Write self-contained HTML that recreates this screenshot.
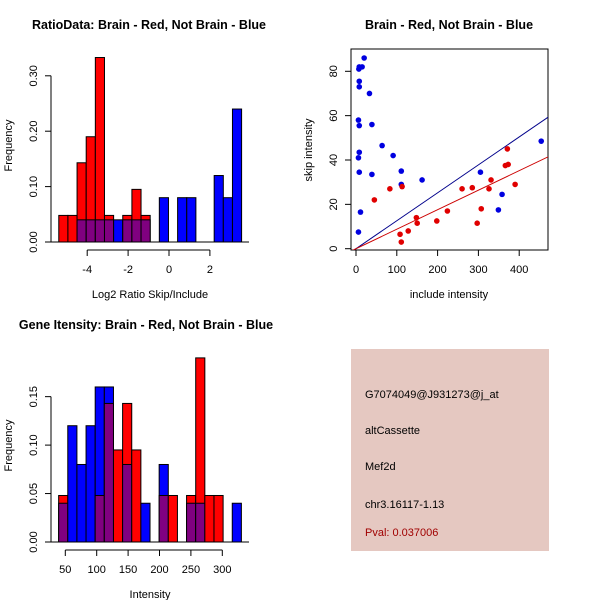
<!DOCTYPE html>
<html><head><meta charset="utf-8"><style>
body{margin:0;background:#fff}
svg{display:block;font-family:"Liberation Sans",Arial,sans-serif}
</style></head><body>
<svg id="c" width="600" height="600" xmlns="http://www.w3.org/2000/svg">
<rect width="600" height="600" fill="#fff"/>
<g id="p1"></g>
<g id="p2"></g>
<g id="p3"></g>
<g>
<rect x="351" y="349" width="198" height="202" fill="#e5c8c1"/>
<text x="365" y="398" font-size="11" fill="#000">G7074049@J931273@j_at</text>
<text x="365" y="434" font-size="11" fill="#000">altCassette</text>
<text x="365" y="470" font-size="11" fill="#000">Mef2d</text>
<text x="365" y="508" font-size="11" fill="#000">chr3.16117-1.13</text>
<text x="365" y="536" font-size="11" fill="#a00000">Pval: 0.037006</text>
</g>
</svg>
<script>
// ---- Ratio histogram data ----
const ratioBreakStart = -5.39;
const ratioBinWidth = 0.447;
const ratioRed = [0.048,0.048,0.143,0.190,0.333,0.048,0,0.048,0.095,0.048,0,0,0,0,0,0,0,0,0,0];
const ratioBlue = [0,0,0.04,0.04,0.04,0.04,0.04,0.04,0.04,0.04,0,0.08,0,0.08,0.08,0,0,0.12,0.08,0.24];
const ratioXTicks = [-4,-2,0,2];
const ratioYTicks = ["0.00","0.10","0.20","0.30"];
// ---- Intensity histogram data ----
const intBreakStart = 39.4;
const intBinWidth = 14.55;
const intRed = [0.048,0,0,0,0.048,0.143,0.095,0.143,0.095,0,0,0.048,0.048,0,0.048,0.190,0.048,0.048,0,0];
const intBlue = [0.04,0.12,0.08,0.12,0.16,0.16,0,0.08,0,0.04,0,0.08,0,0,0.04,0.04,0,0,0,0.04];
const intXTicks = [50,100,150,200,250,300];
const intYTicks = ["0.00","0.05","0.10","0.15"];
// ---- Scatter data ----
const blueX = [20,8,15,7,8,8,33,6,8,39,8,6,64,91,111,8,39,111,162,11,6,305,358,349,454];
const blueY = [86,82,82,81,75.5,73,70,58,55.5,56,43.5,41,46.5,42,35,34.5,33.5,29,31,16.5,7.5,34.5,24.5,17.5,48.5];
const redX = [45,83,113,148,150,108,111,128,198,224,260,285,297,307,326,331,366,373,371,390];
const redY = [22,27,28,14,11.5,6.5,3,8,12.5,17,27,27.5,11.5,18,27,31,37.5,38,45,29];
const blueSlope = 0.126;
const redSlope = 0.088;
const scXTicks = [0,100,200,300,400];
const scYTicks = [0,20,40,60,80];

const NS="http://www.w3.org/2000/svg";
function mk(parent,tag,attrs,txt){const e=document.createElementNS(NS,tag);for(const k in attrs)e.setAttribute(k,attrs[k]);if(txt!==undefined)e.textContent=txt;parent.appendChild(e);return e;}

function histogram(g,cfg){
  const sx=v=>cfg.x0+(v-cfg.xv0)*cfg.xs;
  const sy=v=>cfg.base-v*cfg.ys;
  const n=cfg.red.length;
  for(let i=0;i<n;i++){
    const a=cfg.start+i*cfg.w,b=a+cfg.w;
    const x=sx(a),wd=sx(b)-sx(a);
    const r=cfg.red[i],bl=cfg.blue[i];
    const top=Math.max(r,bl);
    if(top<=0)continue;
    const col=r>=bl?'#ff0000':'#0000ff';
    let e=mk(g,'rect',{x:x,y:sy(top),width:wd,height:sy(0)-sy(top),fill:col,stroke:'#000','stroke-width':1});
    
    
    const m=Math.min(r,bl);
    if(m>0){
      e=mk(g,'rect',{x:x,y:sy(m),width:wd,height:sy(0)-sy(m),fill:'#800080',stroke:'#000','stroke-width':1});
      
      
    }
  }
  let ax=mk(g,'line',{x1:cfg.plotL,x2:cfg.plotR,y1:cfg.base,y2:cfg.base,stroke:'#000'});
  
  
  const yv=cfg.yTicks.map(Number);
  ax=mk(g,'line',{x1:51,x2:51,y1:sy(yv[0]),y2:sy(yv[yv.length-1]),stroke:'#000'});
  
  
  cfg.yTicks.forEach(t=>{
    const y=sy(Number(t));
    mk(g,'line',{x1:45,x2:51,y1:y,y2:y,stroke:'#000'});
    const tx=mk(g,'text',{x:37,y:y,'font-size':11,'text-anchor':'middle',transform:`rotate(-90 37 ${y})`},t);
    
    
  });
  const xa=cfg.xTicks;
  ax=mk(g,'line',{x1:sx(xa[0]),x2:sx(xa[xa.length-1]),y1:cfg.base+8,y2:cfg.base+8,stroke:'#000'});
  
  
  xa.forEach(t=>{
    const x=sx(t);
    mk(g,'line',{x1:x,x2:x,y1:cfg.base+8,y2:cfg.base+14,stroke:'#000'});
    const tx=mk(g,'text',{x:x,y:cfg.base+31,'font-size':11,'text-anchor':'middle'},String(t));
    
    
  });
  let t=mk(g,'text',{x:cfg.titleX,y:cfg.titleY,'font-size':12.5,'font-weight':'bold','text-anchor':'middle'},cfg.title);
  
  t=mk(g,'text',{x:150,y:cfg.base+56,'font-size':11,'text-anchor':'middle'},cfg.xlab);
  
  const my=(cfg.base+cfg.topY)/2;
  t=mk(g,'text',{x:12,y:my,'font-size':11,'text-anchor':'middle',transform:`rotate(-90 12 ${my})`},'Frequency');
  
}

histogram(document.getElementById('p1'),{x0:169,xv0:0,xs:20.45,base:242,ys:554,start:ratioBreakStart,w:ratioBinWidth,red:ratioRed,blue:ratioBlue,xTicks:ratioXTicks,yTicks:ratioYTicks,plotL:51,plotR:249,title:'RatioData: Brain - Red, Not Brain - Blue',titleX:149,titleY:29,xlab:'Log2 Ratio Skip/Include',topY:49});
histogram(document.getElementById('p3'),{x0:65.3,xv0:50,xs:0.628,base:542,ys:969,start:intBreakStart,w:intBinWidth,red:intRed,blue:intBlue,xTicks:intXTicks,yTicks:intYTicks,plotL:51,plotR:249,title:'Gene Itensity: Brain - Red, Not Brain - Blue',titleX:146,titleY:329,xlab:'Intensity',topY:349});

(function(){
  const g=document.getElementById('p2');
  const sx=v=>356+v*0.408, sy=v=>248.7-v*2.2175;
  const L=351,R=548,T=49,B=250;
  mk(g,'defs',{}).innerHTML=`<clipPath id="cp"><rect x="${L}" y="${T}" width="${R-L}" height="${B-T}"/></clipPath>`;
  let e=mk(g,'rect',{x:L,y:T,width:R-L,height:B-T,fill:'none',stroke:'#000'});
  
  const cl=mk(g,'g',{'clip-path':'url(#cp)'});
  const x1=-20,x2=500;
  e=mk(cl,'line',{x1:sx(x1),y1:sy(x1*blueSlope),x2:sx(x2),y2:sy(x2*blueSlope),stroke:'#00008b'});
  
  e=mk(cl,'line',{x1:sx(x1),y1:sy(x1*redSlope),x2:sx(x2),y2:sy(x2*redSlope),stroke:'#cc0000'});
  
  blueX.forEach((x,i)=>{const p=mk(cl,'circle',{cx:sx(x),cy:sy(blueY[i]),r:2.8,fill:'#0000e0'});
    });
  redX.forEach((x,i)=>{const p=mk(cl,'circle',{cx:sx(x),cy:sy(redY[i]),r:2.8,fill:'#e00000'});
    });
  scXTicks.forEach(t=>{const x=sx(t);mk(g,'line',{x1:x,x2:x,y1:B,y2:B+6,stroke:'#000'});
    const tx=mk(g,'text',{x:x,y:B+23,'font-size':11,'text-anchor':'middle'},String(t));
    });
  scYTicks.forEach(t=>{const y=sy(t);mk(g,'line',{x1:L-6,x2:L,y1:y,y2:y,stroke:'#000'});
    const tx=mk(g,'text',{x:337,y:y,'font-size':11,'text-anchor':'middle',transform:`rotate(-90 337 ${y})`},String(t));
    });
  let t=mk(g,'text',{x:449,y:29,'font-size':12.5,'font-weight':'bold','text-anchor':'middle'},'Brain - Red, Not Brain - Blue');
  
  t=mk(g,'text',{x:449,y:298,'font-size':11,'text-anchor':'middle'},'include intensity');
  
  t=mk(g,'text',{x:312,y:150,'font-size':11,'text-anchor':'middle',transform:'rotate(-90 312 150)'},'skip intensity');
  
})();
</script>
</body></html>
